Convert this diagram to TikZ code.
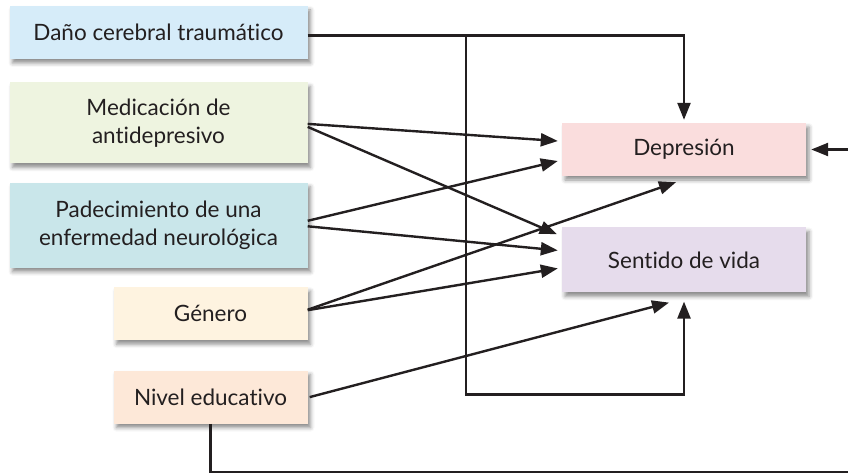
\documentclass[tikz,border=0pt]{standalone}
\usepackage{fontspec}
\setmainfont{Lato}[Ligatures=NoCommon]
\usetikzlibrary{arrows.meta, positioning, shadows.blur}
\definecolor{ink}{HTML}{231F20}
\definecolor{danoC}{HTML}{D6ECF9}
\definecolor{medicC}{HTML}{EEF4E0}
\definecolor{padecC}{HTML}{C9E6EA}
\definecolor{generoC}{HTML}{FEF3E0}
\definecolor{nivelC}{HTML}{FDE8D8}
\definecolor{deprC}{HTML}{FADDDD}
\definecolor{sentC}{HTML}{E6DCEC}
\tikzset{box/.style={rectangle,fill=#1,align=center,inner sep=3pt,minimum width=298pt,minimum height=53pt,text=ink,font=\fontsize{22.5}{28}\selectfont,blur shadow={shadow xshift=3pt,shadow yshift=-4pt,shadow opacity=45,shadow blur radius=4pt}},line/.style={-{Triangle[length=17pt,width=13pt]},line width=2.4pt,draw=ink}}

\begin{document}
\begin{tikzpicture}[x=1pt,y=-1pt,node distance=19pt and 12pt]
\useasboundingbox (0,0) rectangle (848,473);
\node[box=danoC] (dano) at (158.5,32.5) {Daño cerebral traumático};
\node[box=medicC, minimum height=81pt, below=23pt of dano] (medic) {Medicación de\\antidepresivo};
\node[box=padecC, minimum height=85pt, below=of medic] (padec) {Padecimiento de una\\enfermedad neurológica};
\node[box=generoC, minimum width=194pt, below left=19pt and 0pt of padec.south east] (genero) {Género};
\node[box=nivelC, minimum width=194pt, below left=30pt and 0pt of genero.south east] (nivel) {Nivel educativo};
\node[box=deprC, minimum width=244pt] (depr) at (684,149.5) {Depresión};
\node[box=sentC, minimum width=244pt, minimum height=65pt, below=51pt of depr] (sentido) {Sentido de vida};
\coordinate (split) at (466,34.5);
\coordinate (turn) at (466,394.5);
\coordinate (edge) at (852,472.5);
\draw[line, shorten >=3pt] ([yshift=-3pt]dano.east) -| (depr.north);
\draw[line, shorten >=9pt] (split) -- (turn) -| (sentido.south);
\draw[line] ([yshift=-1pt]medic.east) -- ([xshift=-4pt,yshift=8.5pt]depr.west);
\draw[line] ([yshift=-4pt]medic.east) -- ([xshift=-5pt,yshift=-7pt]sentido.north west);
\draw[line] ([yshift=4.5pt]padec.east) -- ([xshift=-4pt,yshift=-11.5pt]depr.west);
\draw[line] ([yshift=-1pt]padec.east) -- ([xshift=-4pt,yshift=9.5pt]sentido.west);
\draw[line] ([yshift=4pt]genero.east) -- ([xshift=-8pt,yshift=-6pt]depr.south);
\draw[line] ([yshift=3.5pt]genero.east) -- ([xshift=-4pt,yshift=-8.5pt]sentido.west);
\draw[line] ([xshift=2pt]nivel.east) -- ([xshift=-15pt,yshift=-10pt]sentido.south);
\draw[line, shorten >=5pt] (nivel.south) |- (edge) |- (depr.east);
\end{tikzpicture}
\end{document}
